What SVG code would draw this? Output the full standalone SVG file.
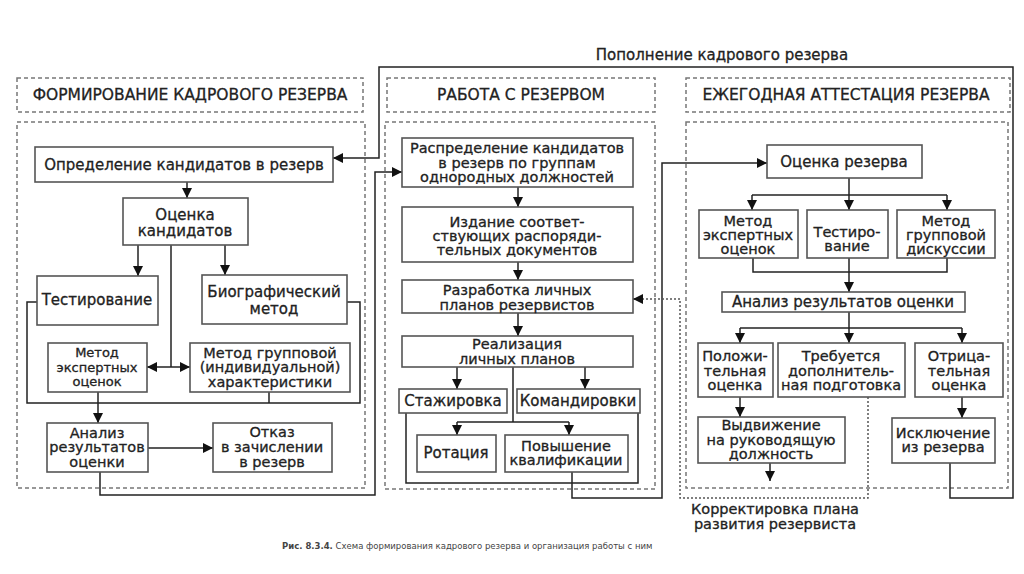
<svg xmlns="http://www.w3.org/2000/svg" width="1024" height="574" viewBox="0 0 1024 574">
<style>
text{font-family:"DejaVu Sans","Liberation Sans",sans-serif;font-size:15px;fill:#222;stroke:#222;stroke-width:0.3;text-anchor:middle}
.h{font-size:15.5px}
.m{font-size:14.5px}
.s{font-size:13px}
.box{fill:none;stroke:#555;stroke-width:1.6}
.dash{fill:none;stroke:#777;stroke-width:1.5;stroke-dasharray:4 3}
.c{fill:none;stroke:#222;stroke-width:1.5}
.a{fill:none;stroke:#222;stroke-width:1.5;marker-end:url(#ah)}
.d{fill:none;stroke:#555;stroke-width:1.5;stroke-dasharray:2 2}
.cap{font-size:8.5px;fill:#444;stroke:none;text-anchor:start}
</style>
<defs>
<marker id="ah" markerUnits="userSpaceOnUse" markerWidth="10" markerHeight="10" viewBox="0 0 10 10" refX="10" refY="5" orient="auto">
<path d="M0,0 L10,5 L0,10 z" fill="#111"/>
</marker>
</defs>
<rect width="1024" height="574" fill="#fff"/>

<g id="frames">
<rect class="dash" x="17" y="78" width="346" height="34"/>
<rect class="dash" x="17" y="122" width="348" height="366"/>
<rect class="dash" x="387" y="78" width="268" height="34"/>
<rect class="dash" x="385" y="122" width="270" height="367"/>
<rect class="dash" x="686" y="78" width="324" height="34"/>
<rect class="dash" x="686" y="122" width="322" height="366"/>
<text class="h" x="190" y="100">ФОРМИРОВАНИЕ КАДРОВОГО РЕЗЕРВА</text>
<text class="h" x="521" y="100">РАБОТА С РЕЗЕРВОМ</text>
<text class="h" x="846" y="100">ЕЖЕГОДНАЯ АТТЕСТАЦИЯ РЕЗЕРВА</text>
</g>

<g id="connectors">
<line class="a" x1="187" y1="182" x2="187" y2="198"/>
<line class="a" x1="138" y1="245" x2="138" y2="276"/>
<line class="a" x1="225" y1="245" x2="225" y2="275"/>
<line class="c" x1="171" y1="245" x2="171" y2="367"/>
<line class="a" x1="171" y1="367" x2="147" y2="367"/>
<line class="a" x1="171" y1="367" x2="190" y2="367"/>
<polyline class="c" points="37,302 27,302 27,403 360,403 360,302 347,302"/>
<line class="c" x1="269" y1="392" x2="269" y2="403"/>
<line class="a" x1="98" y1="392" x2="98" y2="423"/>
<line class="a" x1="148" y1="448" x2="213" y2="448"/>
<polyline class="a" points="100,472 100,495 375,495 375,172 402,172"/>
<polyline class="a" points="950,463 950,498 1013,498 1013,67 379,67 379,158 333,158"/>
<line class="a" x1="518" y1="187" x2="518" y2="207"/>
<line class="a" x1="518" y1="262" x2="518" y2="280"/>
<line class="a" x1="518" y1="313" x2="518" y2="336"/>
<line class="a" x1="457" y1="367" x2="457" y2="389"/>
<line class="a" x1="585" y1="367" x2="585" y2="389"/>
<polyline class="c" points="513,367 513,422"/>
<polyline class="c" points="457,422 569,422"/>
<line class="a" x1="457" y1="422" x2="457" y2="435"/>
<line class="a" x1="569" y1="422" x2="569" y2="435"/>
<polyline class="c" points="406,413 406,483 638,483 638,413"/>
<polyline class="a" points="572,472 572,498 662,498 662,163 767,163"/>
<polyline class="d" points="868,397 868,498 680,498 680,299 642,299"/>
<line class="a" x1="642" y1="299" x2="633" y2="299"/>
<line class="c" x1="849" y1="178" x2="849" y2="195"/>
<line class="c" x1="752" y1="195" x2="947" y2="195"/>
<line class="a" x1="752" y1="195" x2="752" y2="210"/>
<line class="a" x1="849" y1="195" x2="849" y2="210"/>
<line class="a" x1="947" y1="195" x2="947" y2="210"/>
<polyline class="c" points="753,258 753,272 947,272 947,258"/>
<line class="a" x1="849" y1="258" x2="849" y2="292"/>
<line class="c" x1="849" y1="312" x2="849" y2="328"/>
<line class="c" x1="740" y1="328" x2="962" y2="328"/>
<line class="a" x1="740" y1="328" x2="740" y2="343"/>
<line class="a" x1="849" y1="328" x2="849" y2="343"/>
<line class="a" x1="962" y1="328" x2="962" y2="343"/>
<line class="a" x1="740" y1="397" x2="740" y2="417"/>
<line class="a" x1="770" y1="463" x2="770" y2="481"/>
<line class="a" x1="962" y1="397" x2="962" y2="418"/>
</g>

<g id="n-opredelenie"><rect class="box" x="35" y="147" width="298" height="35"/><text x="184" y="170">Определение кандидатов в резерв</text></g>
<g id="n-ocenka-kand"><rect class="box" x="123" y="198" width="125" height="47"/><text x="185" y="220">Оценка</text><text x="185" y="236">кандидатов</text></g>
<g id="n-test-l"><rect class="box" x="37" y="276" width="121" height="49"/><text x="97" y="305">Тестирование</text></g>
<g id="n-biogr"><rect class="box" x="202" y="275" width="145" height="49"/><text x="274" y="297">Биографический</text><text x="274" y="314">метод</text></g>
<g id="n-expert-l"><rect class="box" x="48" y="343" width="99" height="49"/><text class="s" x="97" y="357">Метод</text><text class="s" x="97" y="372">экспертных</text><text class="s" x="97" y="386">оценок</text></g>
<g id="n-grupp-l"><rect class="box" x="190" y="343" width="160" height="49"/><text class="m" x="270" y="358">Метод групповой</text><text class="m" x="270" y="372">(индивидуальной)</text><text class="m" x="270" y="387">характеристики</text></g>
<g id="n-analiz-l"><rect class="box" x="47" y="423" width="101" height="49"/><text class="m" x="97" y="438">Анализ</text><text class="m" x="97" y="452">результатов</text><text class="m" x="97" y="467">оценки</text></g>
<g id="n-otkaz"><rect class="box" x="213" y="423" width="119" height="49"/><text class="m" x="272" y="437">Отказ</text><text class="m" x="272" y="452">в зачислении</text><text class="m" x="272" y="467">в резерв</text></g>

<g id="n-raspr"><rect class="box" x="402" y="138" width="231" height="49"/><text class="m" x="517" y="153">Распределение кандидатов</text><text class="m" x="517" y="168">в резерв по группам</text><text class="m" x="517" y="182">однородных должностей</text></g>
<g id="n-izdanie"><rect class="box" x="402" y="207" width="231" height="55"/><text class="m" x="517" y="227">Издание соответ-</text><text class="m" x="517" y="241">ствующих распоряди-</text><text class="m" x="517" y="255">тельных документов</text></g>
<g id="n-razrab"><rect class="box" x="402" y="280" width="231" height="33"/><text class="m" x="517" y="294.5">Разработка личных</text><text class="m" x="517" y="309.5">планов резервистов</text></g>
<g id="n-realiz"><rect class="box" x="402" y="336" width="231" height="31"/><text class="m" x="517" y="349">Реализация</text><text class="m" x="517" y="363.5">личных планов</text></g>
<g id="n-stazh"><rect class="box" x="399" y="389" width="108" height="24"/><text x="453" y="406">Стажировка</text></g>
<g id="n-komand"><rect class="box" x="517" y="389" width="123" height="24"/><text x="578" y="406">Командировки</text></g>
<g id="n-rotac"><rect class="box" x="417" y="435" width="79" height="37"/><text x="456" y="458">Ротация</text></g>
<g id="n-povysh"><rect class="box" x="505" y="435" width="123" height="37"/><text class="m" x="566" y="450.5">Повышение</text><text class="m" x="566" y="465">квалификации</text></g>

<g id="n-ocenka-rez"><rect class="box" x="767" y="145" width="155" height="33"/><text x="844" y="167">Оценка резерва</text></g>
<g id="n-expert-r"><rect class="box" x="699" y="210" width="99" height="48"/><text class="m" x="748" y="226">Метод</text><text class="m" x="748" y="240">экспертных</text><text class="m" x="748" y="254">оценок</text></g>
<g id="n-test-r"><rect class="box" x="807" y="210" width="81" height="48"/><text class="m" x="847" y="236.5">Тестиро-</text><text class="m" x="847" y="251">вание</text></g>
<g id="n-grupp-r"><rect class="box" x="897" y="210" width="98" height="48"/><text class="m" x="946" y="226">Метод</text><text class="m" x="946" y="240">групповой</text><text class="m" x="946" y="254">дискуссии</text></g>
<g id="n-analiz-r"><rect class="box" x="722" y="292" width="243" height="20"/><text x="843" y="307">Анализ результатов оценки</text></g>
<g id="n-polozh"><rect class="box" x="698" y="343" width="75" height="54"/><text class="m" x="735" y="361">Положи-</text><text class="m" x="735" y="376">тельная</text><text class="m" x="735" y="390">оценка</text></g>
<g id="n-treb"><rect class="box" x="778" y="343" width="127" height="54"/><text class="m" x="841" y="361">Требуется</text><text class="m" x="841" y="376">дополнитель-</text><text class="m" x="841" y="390">ная подготовка</text></g>
<g id="n-otric"><rect class="box" x="915" y="343" width="88" height="54"/><text class="m" x="959" y="361">Отрица-</text><text class="m" x="959" y="376">тельная</text><text class="m" x="959" y="390">оценка</text></g>
<g id="n-vydv"><rect class="box" x="698" y="417" width="147" height="46"/><text class="m" x="771" y="430">Выдвижение</text><text class="m" x="771" y="445">на руководящую</text><text class="m" x="771" y="459">должность</text></g>
<g id="n-iskl"><rect class="box" x="892" y="418" width="103" height="45"/><text class="m" x="943" y="437.5">Исключение</text><text class="m" x="943" y="452">из резерва</text></g>

<g id="labels">
<text x="722" y="60">Пополнение кадрового резерва</text>
<text class="m" x="775" y="514">Корректировка плана</text>
<text class="m" x="775" y="529">развития резервиста</text>
<text class="cap" x="282" y="549"><tspan font-weight="bold">Рис. 8.3.4.</tspan> Схема формирования кадрового резерва и организация работы с ним</text>
</g>
</svg>
